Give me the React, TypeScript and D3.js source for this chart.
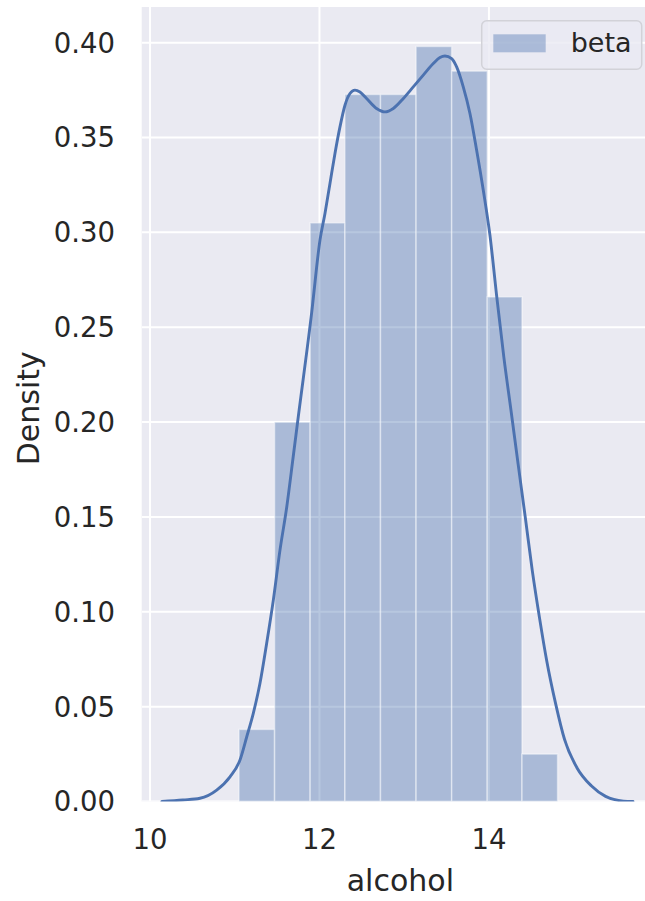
import React from "react";
import * as d3 from "d3";

// ---- data ----
const binEdges = [11.05, 11.47, 11.89, 12.3, 12.72, 13.14, 13.56, 13.98, 14.39, 14.81];
const binDensity = [0.038, 0.2, 0.305, 0.3727, 0.3727, 0.398, 0.385, 0.266, 0.025];

const kdeX = [
  10.14, 10.39, 10.59, 10.787, 10.944, 11.062, 11.141, 11.219, 11.298, 11.377, 11.455, 11.534,
  11.613, 11.69, 11.75, 11.908, 12.006, 12.065, 12.124, 12.183, 12.242, 12.301, 12.36, 12.419,
  12.478, 12.556, 12.674, 12.773, 12.871, 12.99, 13.107, 13.225, 13.343, 13.422, 13.481, 13.56,
  13.619, 13.697, 13.776, 13.855, 13.933, 14.012, 14.092, 14.176, 14.261, 14.345, 14.43, 14.513,
  14.597, 14.682, 14.787, 14.892, 15.04, 15.208, 15.377, 15.588, 15.7,
];
const kdeY = [
  0.0, 0.0008, 0.0017, 0.006, 0.013, 0.0219, 0.034, 0.0465, 0.0623, 0.0834, 0.106, 0.1325,
  0.155, 0.1817, 0.2028, 0.2577, 0.2959, 0.31, 0.3258, 0.3416, 0.3556, 0.367, 0.3732, 0.375,
  0.374, 0.3706, 0.3653, 0.3635, 0.3653, 0.3706, 0.3767, 0.3829, 0.389, 0.3922, 0.393, 0.3916,
  0.3872, 0.3767, 0.3627, 0.3433, 0.3223, 0.2985, 0.2662, 0.2342, 0.206, 0.1777, 0.1495, 0.1213,
  0.0968, 0.0742, 0.0516, 0.0328, 0.0177, 0.0083, 0.0027, 0.0002, 0.0,
];

const xTicks = [10, 12, 14];
const yTicks = [0, 0.05, 0.1, 0.15, 0.2, 0.25, 0.3, 0.35, 0.4];
const xLabel = "alcohol";
const yLabel = "Density";
const legendLabel = "beta";

// ---- layout ----
const W = 645;
const H = 901;
const plotLeft = 141.7;
const plotRight = 655;
const plotTop = 7;
const plotBottom = 801.5;
const FONT = "'DejaVu Sans', sans-serif";
const TEXT = "#262626";
const BLUE = "#4C72B0";
const BG = "#EAEAF2";

export default function App() {
  const x = d3.scaleLinear().domain([9.902, 15.96]).range([plotLeft, plotRight]);
  const y = d3.scaleLinear().domain([0, 0.4188]).range([plotBottom, plotTop]);

  const bins = binDensity.map((d, i) => ({ x0: binEdges[i], x1: binEdges[i + 1], d }));
  const kde = kdeX.map((v, i) => [v, kdeY[i]] as [number, number]);
  const line = d3
    .line<[number, number]>()
    .x((p) => x(p[0]))
    .y((p) => y(p[1]))
    .curve(d3.curveMonotoneX);

  const fmtY = d3.format(".2f");

  return (
    <svg
      width={W}
      height={H}
      style={{ position: "absolute", left: 0, top: 0, background: "white" }}
      fontFamily={FONT}
    >
      <defs>
        <clipPath id="plotclip">
          <rect x={plotLeft} y={plotTop} width={plotRight - plotLeft} height={plotBottom - plotTop} />
        </clipPath>
      </defs>
      <rect x={plotLeft} y={plotTop} width={plotRight - plotLeft} height={plotBottom - plotTop} fill={BG} />
      <g clipPath="url(#plotclip)">
        {yTicks.map((t) => (
          <line key={"gy" + t} x1={plotLeft} x2={plotRight} y1={y(t)} y2={y(t)} stroke="white" strokeWidth={2} />
        ))}
        {[...xTicks, 16].map((t) => (
          <line key={"gx" + t} x1={x(t)} x2={x(t)} y1={plotTop} y2={plotBottom} stroke="white" strokeWidth={2} />
        ))}
        {bins.map((b, i) => (
          <rect
            key={"b" + i}
            x={x(b.x0)}
            y={y(b.d)}
            width={x(b.x1) - x(b.x0)}
            height={y(0) - y(b.d)}
            fill={BLUE}
            fillOpacity={0.4}
            stroke="white"
            strokeOpacity={0.45}
            strokeWidth={1.5}
          />
        ))}
        <path d={line(kde) || ""} fill="none" stroke={BLUE} strokeWidth={2.9} strokeLinejoin="round" strokeLinecap="round" />
      </g>

      {/* y ticks */}
      {yTicks.map((t) => (
        <text key={"ty" + t} x={115} y={y(t)} dy="0.36em" textAnchor="end" fontSize={27.5} fill={TEXT}>
          {fmtY(t)}
        </text>
      ))}
      {/* x ticks */}
      {xTicks.map((t) => (
        <text key={"tx" + t} x={x(t)} y={848.5} textAnchor="middle" fontSize={27.5} fill={TEXT}>
          {t}
        </text>
      ))}
      <text x={(plotLeft + plotRight) / 2 + 2} y={891} textAnchor="middle" fontSize={30} fill={TEXT}>
        {xLabel}
      </text>
      <text
        transform={`translate(39,${(plotTop + plotBottom) / 2 + 4}) rotate(-90)`}
        textAnchor="middle"
        fontSize={30}
        fill={TEXT}
      >
        {yLabel}
      </text>

      {/* legend */}
      <g>
        <rect x={481.7} y={20.7} width={160} height={48.6} rx={5} fill={BG} fillOpacity={0.8} stroke="#D2D2D8" strokeWidth={1.5} />
        <rect x={493.3} y={34.3} width={52.4} height={18} fill={BLUE} fillOpacity={0.4} />
        <text x={570.7} y={52.3} fontSize={27} fill={TEXT}>
          {legendLabel}
        </text>
      </g>
    </svg>
  );
}
